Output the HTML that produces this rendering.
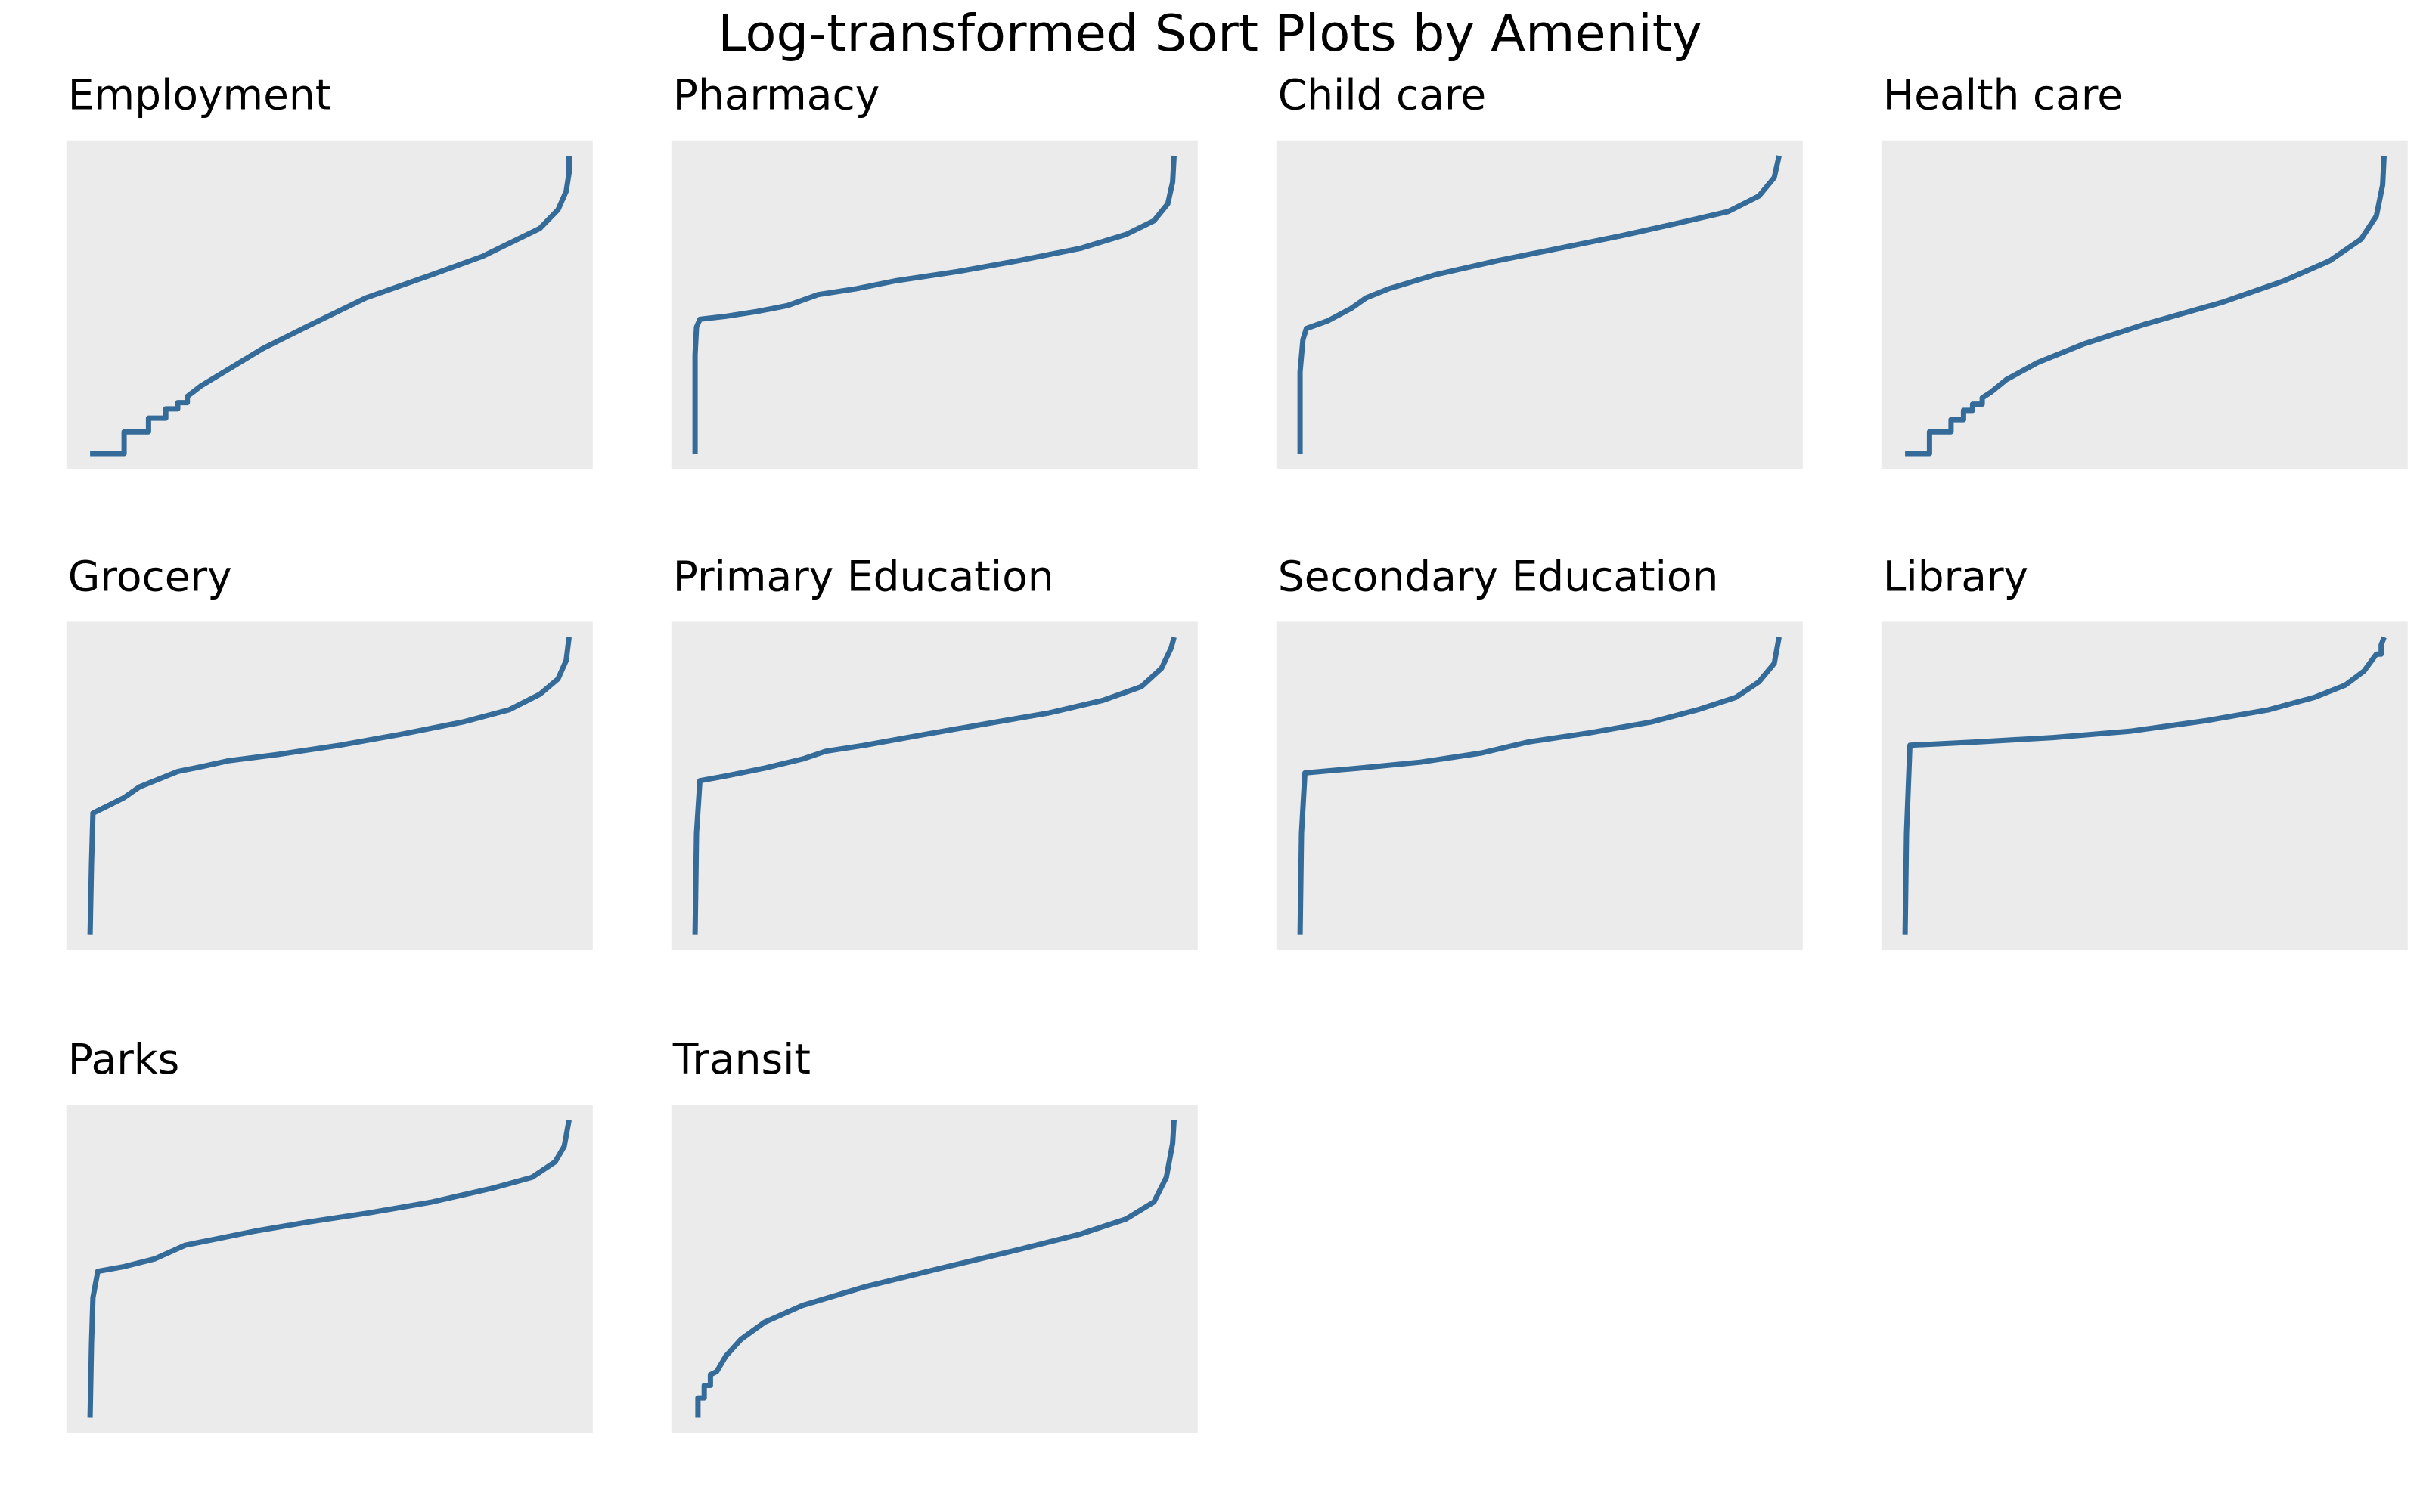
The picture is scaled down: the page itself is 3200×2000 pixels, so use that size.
<!DOCTYPE html>
<html><head><meta charset="utf-8"><style>
html,body{margin:0;padding:0;background:#fff;}
svg{display:block;font-family:"DejaVu Sans","Liberation Sans",sans-serif;}
</style></head><body>
<svg id="fig" width="3200" height="2000" viewBox="0 0 3200 2000">
<text x="1600" y="67" text-anchor="middle" font-size="67" fill="#000">Log-transformed Sort Plots by Amenity</text>
</svg>
<script>
const titles = ["Employment","Pharmacy","Child care","Health care","Grocery","Primary Education","Secondary Education","Library","Parks","Transit"];
// rank (percent of sorted observations) and normalized log value (0-100)
const employmentRank = [0,7.1,7.1,12.2,12.2,15.8,15.8,18.3,18.3,20.3,20.3,23.2,29.6,36.0,45.7,57.6,71.4,82.0,93.9,97.7,99.4,100,100];
const employmentVal  = [0,0,7.3,7.3,11.9,11.9,15.0,15.0,17.1,17.1,19.2,22.8,29.0,35.2,43.0,52.3,60.1,66.3,75.6,81.9,88.1,94.3,100];
const pharmacyRank = [0,0,0.3,1.0,6.4,12.9,19.3,25.7,33.8,41.8,54.7,67.5,80.4,90.0,95.8,98.7,99.7,100];
const pharmacyVal  = [0,33.2,42.5,45.1,46.1,47.7,49.7,53.4,55.4,58.0,61.1,64.8,68.9,73.6,78.2,83.9,91.2,100];
const childRank = [0,0,0.6,1.3,5.8,10.6,13.8,18.6,28.3,41.2,54.0,66.9,79.7,89.4,95.8,99.0,100];
const childVal  = [0,27.5,38.3,42.0,44.6,48.7,52.3,55.4,60.1,64.8,68.9,73.1,77.7,81.3,86.5,92.7,100];
const healthRank = [0,5.1,5.1,9.6,9.6,12.2,12.2,14.1,14.1,16.1,16.1,18.0,21.2,27.7,37.3,50.2,66.2,79.1,88.7,95.2,98.4,99.7,100];
const healthVal  = [0,0,7.3,7.3,11.4,11.4,14.5,14.5,16.6,16.6,18.7,20.7,24.9,30.6,36.8,43.5,50.8,58.0,64.8,72.0,79.8,90.2,100];
const groceryRank = [0,0.3,0.6,3.9,7.1,10.3,13.5,18.3,23.2,28.9,39.2,52.1,65.0,77.8,87.5,93.9,97.7,99.4,100];
const groceryVal  = [0,23.8,40.9,43.5,46.1,49.7,51.8,54.9,56.5,58.5,60.6,63.7,67.4,71.5,75.6,80.8,86.0,92.2,100];
const primaryRank = [0,0.3,1.0,6.4,14.5,22.5,27.3,35.4,48.2,61.1,74.0,85.2,93.2,97.4,99.4,100];
const primaryVal  = [0,34.2,51.8,53.4,56.0,59.1,61.7,63.7,67.4,71.0,74.6,78.8,83.4,89.6,96.4,100];
const secondaryRank = [0,0.3,1.0,12.2,25.1,37.9,47.6,60.5,73.3,83.0,91.0,95.8,99.0,100];
const secondaryVal  = [0,34.2,54.4,56.0,58.0,61.1,64.8,67.9,71.5,75.6,79.8,85.0,91.2,100];
const libraryRank = [0,0.3,1.0,14.8,30.9,46.9,63.0,75.9,85.5,91.9,95.8,98.4,99.4,99.4,100];
const libraryVal  = [0,34.2,63.7,64.8,66.3,68.4,72.0,75.6,79.8,83.9,88.6,94.3,94.3,97.4,100];
const parksRank = [0,0.3,0.6,1.6,7.1,13.5,19.9,26.4,34.4,45.7,58.5,71.4,84.2,92.3,97.1,99.0,100];
const parksVal  = [0,24.9,40.4,49.2,50.8,53.4,58.0,60.1,62.7,65.8,68.9,72.5,77.2,80.8,86.0,91.2,100];
const transitRank = [0.6,0.6,1.9,1.9,3.2,3.2,4.5,6.4,9.6,14.5,22.5,35.4,51.4,67.5,80.4,90.0,95.8,98.4,99.7,100];
const transitVal  = [0,6.7,6.7,10.9,10.9,14.5,15.5,20.7,26.4,32.1,37.8,44.0,50.3,56.5,61.7,66.8,72.5,80.8,92.2,100];

const ranks=[employmentRank,pharmacyRank,childRank,healthRank,groceryRank,primaryRank,secondaryRank,libraryRank,parksRank,transitRank];
const vals=[employmentVal,pharmacyVal,childVal,healthVal,groceryVal,primaryVal,secondaryVal,libraryVal,parksVal,transitVal];

const NS="http://www.w3.org/2000/svg";
const svg=document.getElementById('fig');
const colX=[87.8,887.8,1687.8,2487.8], rowY=[185.7,822.4,1461.2], W=696, H=434.7;
function mk(t,a){const e=document.createElementNS(NS,t);for(const k in a)e.setAttribute(k,a[k]);return e;}
titles.forEach((t,i)=>{
  const L=colX[i%4], T=rowY[Math.floor(i/4)];
  const g=mk('g',{});
  
  
  const bg=mk('rect',{x:L,y:T,width:W,height:H,fill:'#ebebeb'});
  
  
  g.appendChild(bg);
  const tt=mk('text',{x:L+2,y:T-41,'font-size':55,fill:'#000'});
  tt.textContent=t;
  
  
  g.appendChild(tt);
  const r=ranks[i], v=vals[i];
  const vmin=Math.min(...v), vmax=Math.max(...v);
  const sx=x=>L+W*(0.045+0.91*x/100);
  const sy=y=>T+H*(0.953-0.906*(y-vmin)/(vmax-vmin));
  let d='';
  r.forEach((x,j)=>{d+=(j?'L':'M')+sx(x).toFixed(1)+' '+sy(v[j]).toFixed(1);});
  const p=mk('path',{d:d,fill:'none',stroke:'#356b99','stroke-width':7,'stroke-linejoin':'round'});
  
  
  g.appendChild(p);
  svg.appendChild(g);
});
</script>
</body></html>
